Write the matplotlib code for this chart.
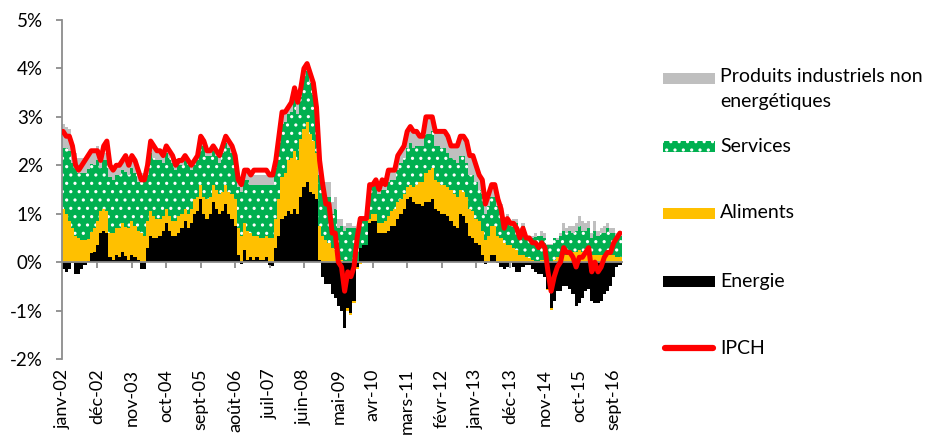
import numpy as np
import matplotlib
matplotlib.use('Agg')
import matplotlib.pyplot as plt
from matplotlib.patches import Rectangle
from matplotlib.ticker import FuncFormatter

plt.rcParams['font.family'] = ['Lato', 'DejaVu Sans']
plt.rcParams['hatch.color'] = 'white'
plt.rcParams['hatch.linewidth'] = 1.1

# Monthly data, janv-02 .. nov-16
# IPCH in %, contributions in percentage points

ipch = [
    2.7, 2.6, 2.6, 2.4, 2.0, 1.9, 2.0, 2.1, 2.2, 2.3, 2.3, 2.3,        # 2002
    2.1, 2.4, 2.5, 2.0, 1.9, 2.0, 2.0, 2.1, 2.2, 2.0, 2.2, 2.1,        # 2003
    1.9, 1.7, 1.7, 2.0, 2.5, 2.4, 2.3, 2.3, 2.2, 2.4, 2.3, 2.2,        # 2004
    2.0, 2.1, 2.1, 2.2, 2.1, 2.0, 2.1, 2.2, 2.6, 2.5, 2.3, 2.3,        # 2005
    2.4, 2.3, 2.2, 2.4, 2.6, 2.5, 2.4, 2.2, 1.7, 1.6, 1.9, 1.9,        # 2006
    1.8, 1.9, 1.9, 1.9, 1.9, 1.9, 1.8, 1.8, 2.1, 2.6, 3.1, 3.1,        # 2007
    3.2, 3.3, 3.6, 3.3, 3.6, 4.0, 4.1, 3.9, 3.7, 3.2, 2.1, 1.6,        # 2008
    1.2, 1.2, 0.6, 0.6, 0.0, -0.1, -0.6, -0.2, -0.3, -0.1, 0.5, 0.9,   # 2009
    0.9, 0.9, 1.6, 1.6, 1.7, 1.5, 1.7, 1.6, 1.9, 1.9, 1.9, 2.2,        # 2010
    2.3, 2.4, 2.7, 2.8, 2.7, 2.7, 2.6, 2.6, 3.0, 3.0, 3.0, 2.7,        # 2011
    2.7, 2.7, 2.7, 2.6, 2.4, 2.4, 2.4, 2.6, 2.6, 2.5, 2.2, 2.2,        # 2012
    2.0, 1.8, 1.7, 1.2, 1.4, 1.6, 1.6, 1.3, 1.1, 0.7, 0.9, 0.8,        # 2013
    0.8, 0.7, 0.5, 0.7, 0.5, 0.5, 0.4, 0.4, 0.3, 0.4, 0.3, -0.2,       # 2014
    -0.6, -0.3, -0.1, 0.0, 0.3, 0.2, 0.2, 0.1, -0.1, 0.1, 0.1, 0.2,    # 2015
    0.3, -0.2, 0.0, -0.2, -0.1, 0.1, 0.2, 0.2, 0.4, 0.5, 0.6,          # 2016
]

energie = [
    -0.15, -0.2, -0.15, -0.02, -0.25, -0.25, -0.15, -0.05, 0.02, 0.18, 0.2, 0.35,
    0.6, 0.65, 0.6, 0.1, 0.05, 0.15, 0.1, 0.2, 0.12, 0.05, 0.15, 0.1,
    0.05, -0.15, -0.15, 0.3, 0.55, 0.5, 0.5, 0.55, 0.65, 0.8, 0.65, 0.55,
    0.55, 0.6, 0.7, 0.85, 0.7, 0.8, 1.0, 1.05, 1.3, 1.0, 0.9, 1.0,
    1.25, 1.1, 1.0, 1.05, 1.2, 1.0, 0.9, 0.75, 0.15, -0.03, 0.25, 0.05,
    0.1, 0.05, 0.1, 0.05, 0.05, 0.1, -0.05, -0.08, 0.3, 0.55, 0.9, 0.95,
    1.05, 1.0, 1.1, 1.0, 1.35, 1.55, 1.65, 1.45, 1.4, 1.3, 0.05, -0.3,
    -0.45, -0.45, -0.65, -0.75, -0.9, -1.0, -1.35, -0.95, -1.05, -0.8, -0.1, 0.3,
    0.35, 0.35, 0.8, 0.85, 0.85, 0.6, 0.6, 0.6, 0.65, 0.75, 0.75, 0.9,
    1.0, 1.1, 1.3, 1.35, 1.25, 1.2, 1.2, 1.15, 1.25, 1.25, 1.3, 1.1,
    1.05, 1.0, 1.0, 0.95, 0.85, 0.75, 0.7, 1.0, 0.95, 0.8, 0.55, 0.5,
    0.4, 0.35, 0.15, -0.03, 0.0, 0.15, 0.15, -0.02, -0.1, -0.15, -0.1, 0.0,
    -0.1, -0.2, -0.2, -0.1, -0.05, -0.05, -0.15, -0.2, -0.25, -0.25, -0.3, -0.55,
    -0.95, -0.8, -0.6, -0.6, -0.5, -0.5, -0.55, -0.65, -0.9, -0.85, -0.75, -0.6,
    -0.55, -0.8, -0.85, -0.85, -0.8, -0.65, -0.6, -0.5, -0.3, -0.1, -0.05,
]

aliments = [
    1.1, 1.0, 0.85, 0.7, 0.55, 0.5, 0.45, 0.45, 0.45, 0.45, 0.5, 0.5,
    0.45, 0.45, 0.45, 0.5, 0.55, 0.55, 0.6, 0.6, 0.6, 0.65, 0.7, 0.65,
    0.6, 0.6, 0.55, 0.55, 0.5, 0.45, 0.4, 0.35, 0.3, 0.3, 0.3, 0.3,
    0.3, 0.35, 0.3, 0.25, 0.3, 0.3, 0.3, 0.3, 0.3, 0.35, 0.4, 0.35,
    0.35, 0.4, 0.4, 0.4, 0.4, 0.45, 0.5, 0.55, 0.55, 0.55, 0.55, 0.6,
    0.5, 0.5, 0.45, 0.45, 0.45, 0.45, 0.5, 0.5, 0.6, 0.75, 0.85, 0.9,
    1.05, 1.15, 1.2, 1.1, 1.2, 1.2, 1.25, 1.2, 1.1, 0.95, 0.7, 0.55,
    0.45, 0.4, 0.3, 0.25, 0.15, 0.05, 0.0, -0.05, -0.05, -0.05, -0.05, -0.03,
    0.0, 0.0, 0.1, 0.15, 0.15, 0.2, 0.2, 0.25, 0.3, 0.3, 0.35, 0.35,
    0.3, 0.3, 0.25, 0.25, 0.3, 0.4, 0.45, 0.5, 0.6, 0.65, 0.65, 0.6,
    0.6, 0.6, 0.6, 0.6, 0.65, 0.65, 0.65, 0.5, 0.5, 0.55, 0.55, 0.55,
    0.5, 0.5, 0.5, 0.45, 0.55, 0.6, 0.6, 0.55, 0.5, 0.4, 0.35, 0.35,
    0.3, 0.25, 0.15, 0.15, 0.1, 0.08, 0.05, 0.02, 0.03, 0.05, 0.05, -0.02,
    -0.03, 0.05, 0.1, 0.1, 0.15, 0.15, 0.2, 0.2, 0.2, 0.25, 0.2, 0.2,
    0.2, 0.15, 0.15, 0.15, 0.15, 0.15, 0.2, 0.15, 0.15, 0.1, 0.1,
]

services = [
    1.25, 1.35, 1.45, 1.35, 1.4, 1.35, 1.4, 1.4, 1.45, 1.4, 1.3, 1.25,
    0.9, 1.0, 1.05, 1.15, 1.1, 1.1, 1.1, 1.1, 1.15, 1.1, 1.1, 1.1,
    1.0, 1.05, 1.1, 0.95, 1.2, 1.2, 1.2, 1.2, 1.1, 1.15, 1.2, 1.2,
    1.05, 1.05, 1.0, 1.0, 1.0, 0.8, 0.7, 0.75, 0.9, 1.05, 0.9, 0.85,
    0.7, 0.7, 0.65, 0.8, 0.85, 0.9, 0.85, 0.75, 0.85, 0.9, 0.9, 1.05,
    1.0, 1.05, 1.05, 1.1, 1.1, 1.05, 1.1, 1.1, 1.05, 1.1, 1.1, 1.05,
    0.95, 0.95, 1.1, 0.95, 0.85, 1.1, 1.05, 1.05, 0.95, 0.7, 1.05, 0.95,
    0.9, 0.95, 0.7, 0.85, 0.55, 0.7, 0.65, 0.7, 0.7, 0.7, 0.6, 0.6,
    0.5, 0.5, 0.65, 0.55, 0.6, 0.6, 0.7, 0.65, 0.7, 0.65, 0.6, 0.65,
    0.75, 0.75, 0.8, 0.85, 0.8, 0.8, 0.75, 0.75, 0.8, 0.75, 0.75, 0.7,
    0.75, 0.75, 0.75, 0.7, 0.65, 0.7, 0.7, 0.7, 0.75, 0.7, 0.7, 0.75,
    0.75, 0.65, 0.75, 0.55, 0.6, 0.6, 0.6, 0.6, 0.55, 0.35, 0.5, 0.4,
    0.5, 0.55, 0.45, 0.6, 0.4, 0.45, 0.45, 0.5, 0.5, 0.5, 0.45, 0.35,
    0.35, 0.45, 0.35, 0.45, 0.5, 0.45, 0.45, 0.4, 0.45, 0.5, 0.45, 0.45,
    0.5, 0.35, 0.5, 0.4, 0.45, 0.45, 0.5, 0.45, 0.45, 0.4, 0.45,
]

produits = [
    0.5, 0.45, 0.45, 0.35, 0.3, 0.3, 0.3, 0.3, 0.3, 0.3, 0.3, 0.3,
    0.15, 0.15, 0.15, 0.2, 0.2, 0.2, 0.2, 0.2, 0.2, 0.2, 0.2, 0.25,
    0.25, 0.2, 0.2, 0.2, 0.2, 0.2, 0.2, 0.2, 0.15, 0.15, 0.15, 0.15,
    0.1, 0.1, 0.1, 0.1, 0.1, 0.1, 0.1, 0.1, 0.1, 0.1, 0.1, 0.1,
    0.1, 0.1, 0.15, 0.15, 0.15, 0.15, 0.15, 0.15, 0.15, 0.15, 0.2, 0.2,
    0.2, 0.2, 0.2, 0.2, 0.2, 0.2, 0.15, 0.15, 0.15, 0.2, 0.2, 0.2,
    0.2, 0.2, 0.2, 0.25, 0.2, 0.15, 0.15, 0.2, 0.25, 0.25, 0.3, 0.3,
    0.3, 0.3, 0.25, 0.25, 0.2, 0.15, 0.1, 0.1, 0.1, 0.05, 0.05, 0.05,
    0.05, 0.05, 0.05, 0.05, 0.1, 0.1, 0.2, 0.1, 0.25, 0.2, 0.2, 0.3,
    0.25, 0.25, 0.35, 0.35, 0.35, 0.3, 0.2, 0.2, 0.35, 0.35, 0.3, 0.3,
    0.3, 0.35, 0.35, 0.35, 0.25, 0.3, 0.35, 0.4, 0.4, 0.45, 0.4, 0.4,
    0.35, 0.3, 0.3, 0.23, 0.25, 0.25, 0.25, 0.17, 0.15, 0.1, 0.15, 0.05,
    0.1, 0.1, 0.1, 0.05, 0.05, 0.02, 0.05, 0.08, 0.02, 0.1, 0.1, 0.02,
    0.03, 0.0, 0.05, 0.05, 0.15, 0.1, 0.1, 0.15, 0.15, 0.2, 0.2, 0.15,
    0.15, 0.1, 0.2, 0.1, 0.1, 0.15, 0.1, 0.1, 0.1, 0.1, 0.1,
]

tick_labels = ['janv-02', 'déc-02', 'nov-03', 'oct-04', 'sept-05', 'août-06',
               'juil-07', 'juin-08', 'mai-09', 'avr-10', 'mars-11', 'févr-12',
               'janv-13', 'déc-13', 'nov-14', 'oct-15', 'sept-16']

#%%

GREY_AX = '#8c8c8c'
x = np.arange(len(ipch))

fig = plt.figure(figsize=(9.27, 4.37), dpi=100)
ax = fig.add_axes([61.5 / 927, 78 / 437, 560 / 927, 339 / 437])

# stacked bars: positives pile up from 0, negatives pile down from 0
series = [
    (energie, '#000000', None),
    (aliments, '#FFC000', None),
    (services, '#00B050', '..'),
    (produits, '#BFBFBF', None),
]
pos_base = np.zeros(len(x))
neg_base = np.zeros(len(x))
for vals, col, hatch in series:
    v = np.array(vals)
    bottom = np.where(v >= 0, pos_base, neg_base)
    ax.bar(x, v, bottom=bottom, width=1.0, color=col, linewidth=0,
           edgecolor='white' if hatch else col, hatch=hatch, zorder=2)
    pos_base += np.clip(v, 0, None)
    neg_base += np.clip(v, None, 0)

ax.plot(x, ipch, color='#FF0000', lw=3.6, solid_joinstyle='round',
        solid_capstyle='round', zorder=4)

ax.set_xlim(-0.5, len(x) - 0.5)
ax.set_ylim(-2, 5)

for s in ['top', 'right']:
    ax.spines[s].set_visible(False)
ax.spines['left'].set_color(GREY_AX)
ax.spines['left'].set_linewidth(1.3)
ax.spines['bottom'].set_position(('data', 0))
ax.spines['bottom'].set_color(GREY_AX)
ax.spines['bottom'].set_linewidth(1.3)
ax.spines['bottom'].set_zorder(3)

ax.set_yticks(np.arange(-2, 6, 1))
ax.yaxis.set_major_formatter(FuncFormatter(lambda v, p: f'{int(v)}%'))
ax.tick_params(axis='y', direction='out', length=4.5, width=1.3,
               color=GREY_AX, labelsize=13.5, pad=9)

tick_pos = np.arange(0, len(x), 11)
ax.set_xticks(tick_pos)
ax.tick_params(axis='x', direction='out', length=4, width=1.3,
               color=GREY_AX, labelbottom=False)

sec = ax.secondary_xaxis('bottom')
sec.set_xticks(tick_pos, labels=tick_labels, rotation=90)
sec.tick_params(length=0, pad=7, labelsize=13)
sec.spines['bottom'].set_visible(False)

# legend drawn on the right, like the original
lax = fig.add_axes([0, 0, 1, 1])
lax.set_xlim(0, 927)
lax.set_ylim(437, 0)
lax.axis('off')

leg_labels = ['Produits industriels non\nenergétiques', 'Services', 'Aliments', 'Energie']
leg_colors = ['#BFBFBF', '#00B050', '#FFC000', '#000000']
leg_hatch = [None, '..', None, None]
leg_y = [78, 146, 213, 281]
for lab, col, h, yy in zip(leg_labels, leg_colors, leg_hatch, leg_y):
    lax.add_patch(Rectangle((663, yy - 5.5), 52, 11, facecolor=col, linewidth=0,
                            edgecolor='white' if h else col, hatch=h))
    if '\n' in lab:
        lax.text(720, yy - 10, lab, ha='left', va='top', fontsize=14,
                 linespacing=1.55)
    else:
        lax.text(720, yy, lab, ha='left', va='center', fontsize=14)

lax.plot([665, 713], [348, 348], color='#FF0000', lw=4.5, solid_capstyle='round')
lax.text(720, 348, 'IPCH', ha='left', va='center', fontsize=14)

fig.savefig('out.png', dpi=100)
